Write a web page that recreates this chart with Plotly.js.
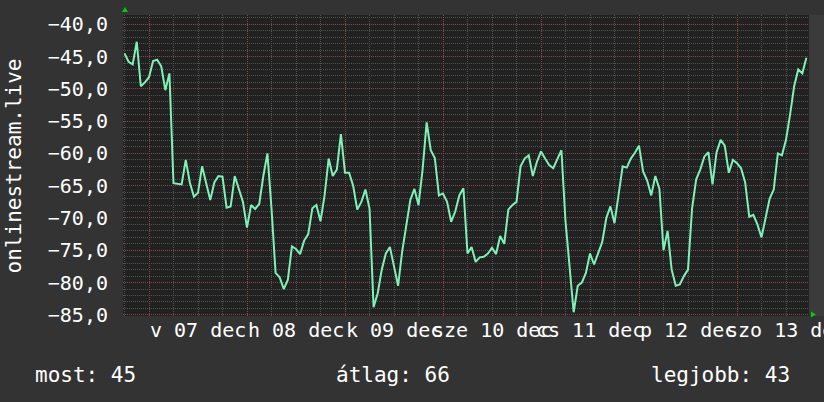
<!DOCTYPE html>
<html><head><meta charset="utf-8">
<script src="https://cdn.plot.ly/plotly-3.0.1.min.js"></script>
<style>html,body{margin:0;padding:0;background:#333333;}#chart{width:824px;height:402px;}</style>
</head><body><div id="chart"></div>
<script>
// hourly samples starting at startTime
const startTime = '2025-12-06T18:00:00Z';
const stepHours = 1;
const values = [
 -44.5,-45.8,-46.2,-42.7,-49.6,-49.0,-48.2,-45.7,-45.5,-46.5,
 -50.2,-47.6,-64.6,-64.7,-64.8,-61.0,-64.5,-66.7,-66.1,-62.0,
 -64.8,-67.2,-64.5,-63.5,-63.6,-68.4,-68.2,-63.5,-65.5,-67.5,
 -71.5,-68.0,-68.6,-67.8,-63.5,-60.0,-68.5,-78.5,-79.2,-81.0,
 -79.6,-74.4,-74.8,-75.6,-73.5,-72.5,-68.5,-68.0,-70.5,-66.5,
 -60.8,-63.5,-62.5,-57.0,-63.0,-63.0,-65.0,-68.7,-67.5,-65.6,
 -68.5,-83.8,-81.7,-78.0,-75.5,-74.5,-77.5,-80.5,-75.2,-70.8,
 -67.2,-65.5,-68.0,-62.5,-55.2,-59.5,-60.7,-66.5,-66.2,-67.5,
 -70.6,-69.0,-66.5,-65.4,-75.5,-74.5,-76.8,-76.1,-76.0,-75.5,
 -74.6,-75.6,-72.8,-74.0,-68.7,-68.0,-67.5,-62.0,-60.8,-60.3,
 -63.5,-61.3,-59.7,-60.8,-61.8,-62.3,-61.0,-59.5,-70.5,-77.6,
 -84.6,-80.5,-80.0,-78.5,-75.5,-77.2,-75.5,-73.7,-70.0,-68.2,
 -70.8,-66.6,-62.0,-62.2,-60.8,-59.9,-58.8,-62.8,-64.2,-66.5,
 -63.5,-65.5,-75.0,-72.0,-78.0,-80.5,-80.3,-79.0,-78.0,-68.5,
 -64.0,-62.5,-60.5,-59.8,-64.8,-59.8,-57.9,-58.8,-63.0,-61.0,
 -61.5,-62.3,-64.5,-69.8,-69.5,-71.0,-73.0,-70.0,-67.0,-65.6,
 -60.0,-60.3,-57.9,-54.0,-49.6,-47.0,-47.6,-45.2
];
const xRange = ['2025-12-06 17:38', '2025-12-13 17:38'];
const dayTicks = ['2025-12-07 12:00','2025-12-08 12:00','2025-12-09 12:00','2025-12-10 12:00','2025-12-11 12:00','2025-12-12 12:00','2025-12-13 12:00'];
const dayLabels = ['v 07 dec','h 08 dec','k 09 dec','sze 10 dec','cs 11 dec','p 12 dec','szo 13 dec'];
const yTicks = [-85,-80,-75,-70,-65,-60,-55,-50,-45,-40];
const yRange = [-85.18, -38.56];
const yTitle = 'onlinestream.live';
const statLabels = ['most: 45', 'átlag: 66', 'legjobb: 43'];

function fmt(ms){ return new Date(ms).toISOString().slice(0,16).replace('T',' '); }
const t0 = Date.parse(startTime);
const times = values.map((v,i)=>fmt(t0 + i*stepHours*3600000));

const MONO = 'DejaVu Sans Mono, monospace';
const trace = {
  type:'scatter', mode:'lines', x: times, y: values,
  line:{color:'#7ff0b8', width:2}, hoverinfo:'skip'
};

const annotations = dayTicks.map((d,i)=>({
  xref:'x', yref:'paper', x:d, y:-0.0465, yanchor:'middle', xanchor:'center',
  text:dayLabels[i], showarrow:false, font:{family:MONO, size:20, color:'#ffffff'}
}));
annotations.push({xref:'paper', yref:'paper', x:-0.159, y:0.5, xanchor:'center', yanchor:'middle',
  textangle:-90, text:yTitle, showarrow:false, font:{family:MONO, size:21, color:'#ffffff'}});
annotations.push({xref:'paper', yref:'paper', x:-0.1312, y:-0.197, xanchor:'left', yanchor:'middle',
  text:statLabels[0], showarrow:false, font:{family:MONO, size:21, color:'#ffffff'}});
annotations.push({xref:'paper', yref:'paper', x:0.3076, y:-0.197, xanchor:'left', yanchor:'middle',
  text:statLabels[1], showarrow:false, font:{family:MONO, size:21, color:'#ffffff'}});
annotations.push({xref:'paper', yref:'paper', x:0.975, y:-0.197, xanchor:'right', yanchor:'middle',
  text:statLabels[2], showarrow:false, font:{family:MONO, size:21, color:'#ffffff'}});

const shapes = [
  {type:'rect', xref:'paper', yref:'paper', x0:1, x1:1.03, y0:0, y1:1, fillcolor:'#3b3b3b', line:{width:0}, layer:'below'},
  {type:'path', xref:'paper', yref:'paper', path:'M -0.0015 1.0100 L 0.0073 1.0100 L 0.0029 1.0266 Z', fillcolor:'#00d000', line:{width:0}},
  {type:'path', xref:'paper', yref:'paper', path:'M 1.0029 0.0150 L 1.0029 -0.0050 L 1.0102 0.0050 Z', fillcolor:'#00d000', line:{width:0}}
];

const layout = {
  width:824, height:402,
  margin:{l:123, r:15, t:15, b:86, pad:0},
  paper_bgcolor:'#333333', plot_bgcolor:'#212121',
  separators:',.',
  font:{family:MONO, size:20, color:'#ffffff'},
  showlegend:false,
  xaxis:{type:'date', range:xRange, showgrid:true, gridcolor:'#8a4848', griddash:'1px,1px', gridwidth:1,
    tick0:'2025-12-07', dtick:86400000, showticklabels:false, ticks:'', zeroline:false, showline:false,
    minor:{dtick:21600000, tick0:'2025-12-07', showgrid:true, gridcolor:'#525252', griddash:'1px,1px', gridwidth:1},
    fixedrange:true},
  yaxis:{range:yRange, tickvals:yTicks, tickformat:'.1f', showgrid:true, gridcolor:'#8a4848', griddash:'1px,1px', gridwidth:1,
    ticks:'', ticklabelstandoff:14, zeroline:false, showline:false,
    tickfont:{family:MONO, size:20, color:'#ffffff'},
    minor:{dtick:1, tick0:-85, showgrid:true, gridcolor:'#525252', griddash:'1px,1px', gridwidth:1},
    fixedrange:true},
  annotations: annotations,
  shapes: shapes
};
Plotly.newPlot('chart', [trace], layout, {displayModeBar:false, staticPlot:true});
</script></body></html>
